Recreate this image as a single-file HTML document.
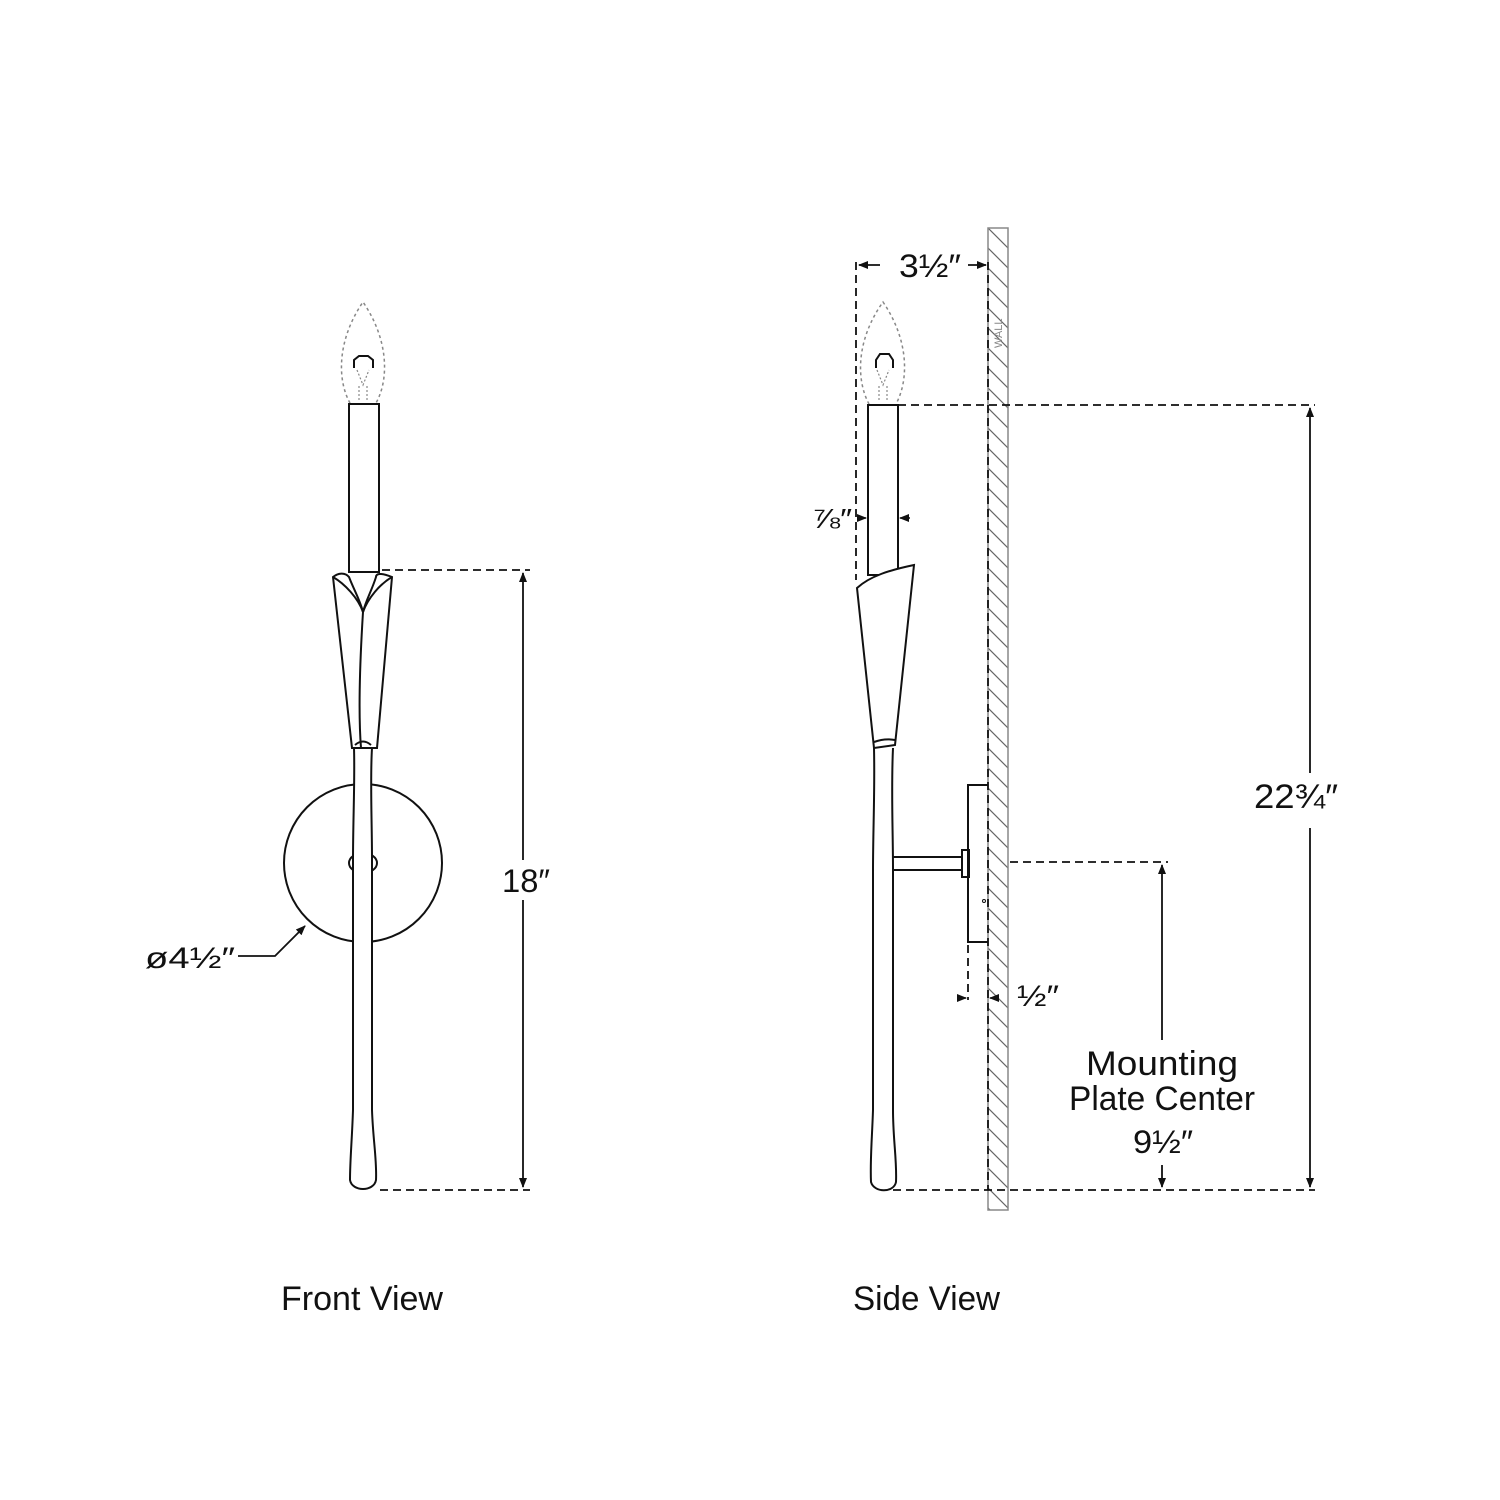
<!DOCTYPE html>
<html><head><meta charset="utf-8"><style>html,body{margin:0;padding:0;background:#fff}svg{display:block}text{font-family:"Liberation Sans",sans-serif;fill:#111}</style></head><body>
<svg width="1500" height="1500" viewBox="0 0 1500 1500" xmlns="http://www.w3.org/2000/svg">
<defs>
<pattern id="h" width="20" height="20" patternUnits="userSpaceOnUse"><path d="M-5,-5 L25,25 M-5,15 L5,25 M15,-5 L25,5" stroke="#666" stroke-width="1.2"/></pattern>
<marker id="a" markerWidth="10" markerHeight="10" refX="9" refY="5" orient="auto" markerUnits="userSpaceOnUse"><path d="M0,1 L10,5 L0,9 Z" fill="#111"/></marker>
</defs>
<rect width="1500" height="1500" fill="#fff"/>
<g fill="none" stroke="#111" stroke-width="2">
<path d="M350,403 C337,380 337,340 363,302 C389,340 389,380 376,403" stroke="#888" stroke-dasharray="3,3" stroke-width="1.5"/>
<path d="M354,368 L354,360 L359,356 L368,356 L373,360 L373,368"/>
<path d="M359,400 L359,385 M367,400 L367,385 M357,370 L363,385 L369,370" stroke="#888" stroke-width="1.2" stroke-dasharray="2,2"/>
<rect x="349" y="404" width="30" height="168" fill="#fff"/>
<circle cx="363" cy="863" r="79"/>
<ellipse cx="363" cy="863" rx="14" ry="10" fill="#fff"/>
<path d="M354,748 C355,780 353,820 353,860 L353,1110 C352,1140 350,1160 350,1180 C352,1192 374,1192 376,1180 C377,1160 373,1140 372,1110 L372,860 C372,820 370,780 372,748" fill="#fff"/>
<path d="M333,577 L352,748 L377,748 L392,577 C380,572 376,574 376,577 C372,590 366,600 363,612 C360,600 354,590 349,577 C345,572 338,573 333,577 Z" fill="#fff"/>
<path d="M333,577 C345,584 358,598 363,612 C368,598 380,584 392,577 M363,612 C360,660 358,710 361,748 M355,745 Q363,738 371,745"/>
<path d="M382,570 L530,570 M380,1190 L530,1190" stroke-dasharray="8,5" stroke-width="1.8"/>
<path d="M523,860 L523,573" marker-end="url(#a)" stroke-width="1.8"/>
<path d="M523,900 L523,1187" marker-end="url(#a)" stroke-width="1.8"/>
<path d="M238,956 L275,956 L305,926" marker-end="url(#a)" stroke-width="1.8"/>
<rect x="988" y="228" width="20" height="982" fill="url(#h)" stroke="#888" stroke-width="1.5"/>
<path d="M869,404 C856,380 856,340 883,302 C909,340 909,380 896,404" stroke="#888" stroke-dasharray="3,3" stroke-width="1.5"/>
<path d="M876,368 L876,360 L880,354 L889,354 L893,360 L893,368"/>
<path d="M879,400 L879,385 M887,400 L887,385 M877,370 L883,385 L889,370" stroke="#888" stroke-width="1.2" stroke-dasharray="2,2"/>
<rect x="868" y="405" width="30" height="170" fill="#fff"/>
<path d="M874,748 C875,790 873,830 873,870 L873,1110 C872,1140 870,1160 871,1182 C874,1193 894,1193 896,1182 C897,1160 893,1140 893,1110 L893,870 C893,830 891,790 893,748" fill="#fff"/>
<path d="M857,588 C870,576 890,570 914,565 L895,745 L874,748 Z" fill="#fff"/>
<path d="M874,742 Q885,738 895,740"/>
<path d="M893,857 L962,857 M893,870 L962,870"/>
<rect x="962" y="850" width="7" height="27" fill="#fff"/>
<path d="M988,785 L968,785 L968,942 L988,942"/>
<circle cx="984" cy="901" r="1.5" stroke-width="1"/>
<path d="M856,262 L856,580 M988,262 L988,1190" stroke-dasharray="8,5" stroke-width="1.8"/>
<path d="M880,265 L859,265" marker-end="url(#a)" stroke-width="1.8"/>
<path d="M968,265 L986,265" marker-end="url(#a)" stroke-width="1.8"/>
<path d="M898,405 L1315,405 M893,1190 L1315,1190 M1010,862 L1168,862" stroke-dasharray="8,5" stroke-width="1.8"/>
<path d="M1310,773 L1310,408" marker-end="url(#a)" stroke-width="1.8"/>
<path d="M1310,828 L1310,1187" marker-end="url(#a)" stroke-width="1.8"/>
<path d="M1162,1040 L1162,865" marker-end="url(#a)" stroke-width="1.8"/>
<path d="M1162,1165 L1162,1187" marker-end="url(#a)" stroke-width="1.8"/>
<path d="M857,518 L866,518" marker-end="url(#a)" stroke-width="1.5"/>
<path d="M910,518 L900,518" marker-end="url(#a)" stroke-width="1.5"/>
<path d="M968,945 L968,1000" stroke-dasharray="8,5" stroke-width="1.8"/>
<path d="M958,998 L966,998" marker-end="url(#a)" stroke-width="1.5"/>
<path d="M998,998 L990,998" marker-end="url(#a)" stroke-width="1.5"/>
</g>
<text x="1002" y="348" font-size="11" transform="rotate(-90 1002 348)" style="fill:#888">WALL</text>
<text x="502" y="892" font-size="32" textLength="48" lengthAdjust="spacingAndGlyphs">18″</text>
<text x="145" y="968" font-size="30" textLength="90" lengthAdjust="spacingAndGlyphs">ø4½″</text>
<text x="899" y="277" font-size="32" textLength="62" lengthAdjust="spacingAndGlyphs">3½″</text>
<text x="812" y="528" font-size="28" textLength="40" lengthAdjust="spacingAndGlyphs">⅞″</text>
<text x="1017" y="1006" font-size="30" textLength="42" lengthAdjust="spacingAndGlyphs">½″</text>
<text x="1254" y="808" font-size="34" textLength="84" lengthAdjust="spacingAndGlyphs">22¾″</text>
<text x="1086" y="1075" font-size="34" textLength="152" lengthAdjust="spacingAndGlyphs">Mounting</text>
<text x="1069" y="1110" font-size="34" textLength="186" lengthAdjust="spacingAndGlyphs">Plate Center</text>
<text x="1133" y="1153" font-size="32" textLength="60" lengthAdjust="spacingAndGlyphs">9½″</text>
<text x="281" y="1310" font-size="34" textLength="162" lengthAdjust="spacingAndGlyphs">Front View</text>
<text x="853" y="1310" font-size="34" textLength="147" lengthAdjust="spacingAndGlyphs">Side View</text>
</svg>
</body></html>
